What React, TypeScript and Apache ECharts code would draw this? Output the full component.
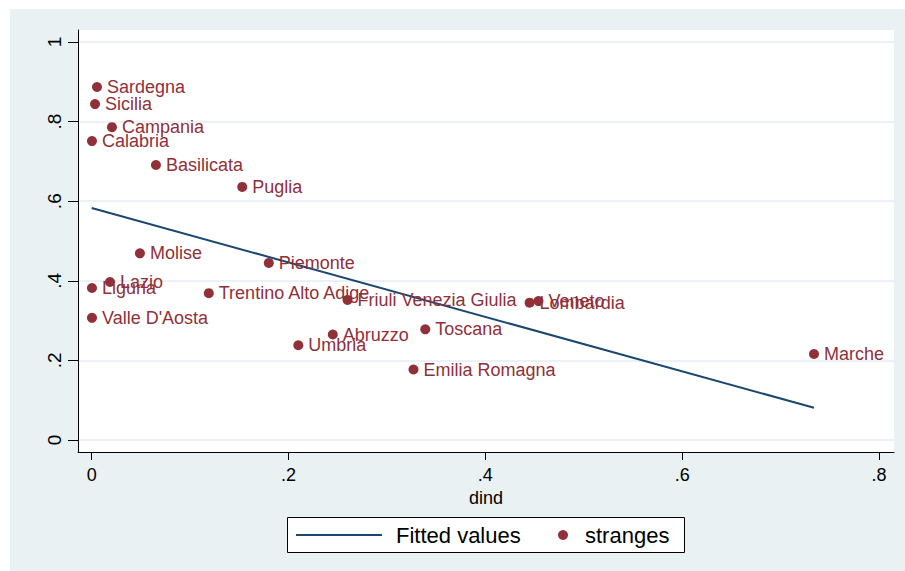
import React, { useEffect, useRef } from "react";
import * as echarts from "echarts";

const regions = [
  "Sardegna", "Sicilia", "Campania", "Calabria", "Basilicata", "Puglia",
  "Molise", "Piemonte", "Lazio", "Liguria", "Trentino Alto Adige",
  "Friuli Venezia Giulia", "Lombardia", "Veneto", "Valle D'Aosta",
  "Toscana", "Abruzzo", "Umbria", "Emilia Romagna", "Marche",
];
const dind = [
  0.0054, 0.0034, 0.0206, 0.0003, 0.0653, 0.1530,
  0.0490, 0.1800, 0.0186, 0.0003, 0.1190,
  0.2600, 0.4450, 0.4540, 0.0003,
  0.3390, 0.2450, 0.2100, 0.3270, 0.7340,
];
const stranges = [
  0.887, 0.844, 0.786, 0.751, 0.691, 0.636,
  0.469, 0.445, 0.397, 0.382, 0.369,
  0.352, 0.345, 0.349, 0.307,
  0.278, 0.265, 0.238, 0.177, 0.216,
];
const fitX = [0, 0.734];
const fitY = [0.583, 0.081];
const xTicks = [0, 0.2, 0.4, 0.6, 0.8];
const yTicks = [0, 0.2, 0.4, 0.6, 0.8, 1];

const fmt = (v: number) => {
  const s = String(Math.round(v * 10) / 10);
  return s.startsWith("0.") ? s.slice(1) : s;
};

const FONT = "'Liberation Sans', Arial, sans-serif";
const MAROON = "#903038";
const NAVY = "#1a476f";
const PANEL = "#e9f1f3";
const GRIDC = "#e4edf0";

export default function App() {
  const ref = useRef<HTMLDivElement>(null);
  useEffect(() => {
    if (!ref.current) return;
    const chart = echarts.init(ref.current, undefined, { renderer: "svg" });
    const option: any = {
      animation: false,
      backgroundColor: "#ffffff",
      textStyle: { fontFamily: FONT },
      graphic: [
        { type: "rect", shape: { x: 10, y: 9, width: 895, height: 562 }, style: { fill: PANEL }, z: -100, silent: true },
        { type: "rect", shape: { x: 287.5, y: 517.5, width: 397, height: 35 }, style: { fill: "#ffffff", stroke: "#000000", lineWidth: 1 }, z: 1 },
      ],
      grid: {
        left: 78, top: 30, width: 816, height: 422,
        show: true, backgroundColor: "#ffffff", borderWidth: 0, containLabel: false,
      },
      xAxis: {
        type: "value", min: -0.0139, max: 0.8153,
        axisLine: { show: true, onZero: false, lineStyle: { color: "#000", width: 1 } },
        axisTick: { show: true, length: 8, customValues: xTicks, lineStyle: { color: "#000" } },
        axisLabel: { customValues: xTicks, formatter: fmt, fontSize: 18, color: "#000", margin: 14, fontFamily: FONT },
        splitLine: { show: false },
        name: "dind", nameLocation: "middle", nameGap: 31,
        nameTextStyle: { fontSize: 18, color: "#000", fontFamily: FONT },
      },
      yAxis: {
        type: "value", min: -0.0302, max: 1.0302,
        axisLine: { show: true, onZero: false, lineStyle: { color: "#000", width: 1 } },
        axisTick: { show: true, length: 10, customValues: yTicks, lineStyle: { color: "#000" } },
        axisLabel: { customValues: yTicks, formatter: fmt, fontSize: 19, color: "#000", margin: 14, rotate: 90, fontFamily: FONT },
        splitLine: { show: true, lineStyle: { color: GRIDC, width: 1.5 } },
      },
      legend: [
        {
          left: 296, top: 524, padding: 0, itemWidth: 86, itemHeight: 2,
          data: [{ name: "Fitted values", icon: "rect", itemStyle: { color: NAVY } }],
          textStyle: { fontSize: 22, color: "#000", fontFamily: FONT, padding: [0, 0, 0, 9] },
          selectedMode: false,
        },
        {
          left: 558, top: 524, padding: 0, itemWidth: 10, itemHeight: 10,
          data: [{ name: "stranges", icon: "circle" }],
          textStyle: { fontSize: 22, color: "#000", fontFamily: FONT, padding: [0, 0, 0, 12] },
          selectedMode: false,
        },
      ],
      series: [
        {
          name: "Fitted values", type: "line", symbol: "none",
          data: fitX.map((x, i) => [x, fitY[i]]),
          lineStyle: { color: NAVY, width: 2 }, itemStyle: { color: NAVY },
          z: 2,
        },
        {
          name: "stranges", type: "scatter", symbol: "circle", symbolSize: 10, clip: false,
          data: dind.map((x, i) => [x, stranges[i]]),
          itemStyle: { color: MAROON, opacity: 1 },
          label: {
            show: true, position: "right", distance: 5,
            formatter: (p: any) => regions[p.dataIndex],
            color: MAROON, fontSize: 18, fontFamily: FONT,
          },
          z: 3,
        },
      ],
    };
    chart.setOption(option);
    return () => chart.dispose();
  }, []);
  return (
    <div
      ref={ref}
      style={{ position: "fixed", left: 0, top: 0, width: 905, height: 571 }}
    />
  );
}
